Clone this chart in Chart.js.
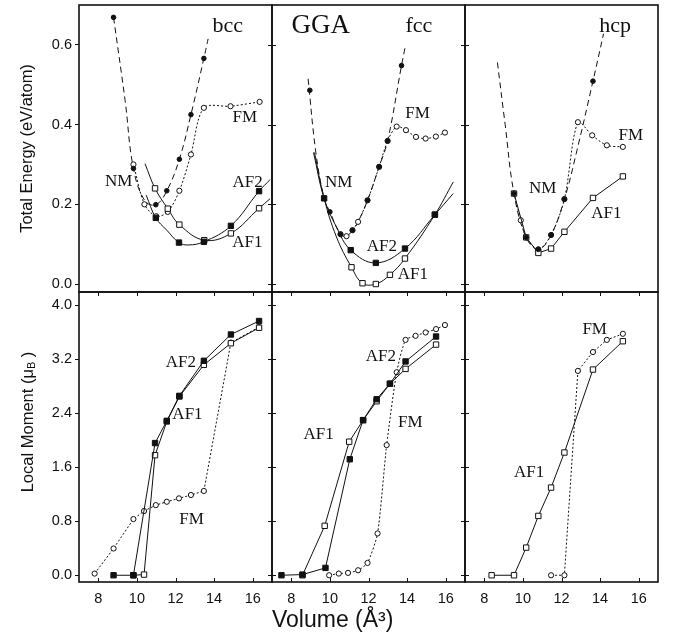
<!DOCTYPE html>
<html>
<head>
<meta charset="utf-8">
<script src="https://cdn.jsdelivr.net/npm/chart.js@4.4.1/dist/chart.umd.min.js"></script>
<style>
    body { margin: 0; background: #fff; }
    #wrap { position: relative; width: 675px; height: 639px; }
    #wrap canvas { position: absolute; left: 0; top: 0; }
</style>
</head>
<body>
<div id="wrap">
    <canvas id="bccE" width="675" height="639"></canvas>
    <canvas id="fccE" width="675" height="639"></canvas>
    <canvas id="hcpE" width="675" height="639"></canvas>
    <canvas id="bccM" width="675" height="639"></canvas>
    <canvas id="fccM" width="675" height="639"></canvas>
    <canvas id="hcpM" width="675" height="639"></canvas>
</div>
<script>
// tick values
const xTicks = [8, 10, 12, 14, 16];
const energyTicks = [0, 0.2, 0.4, 0.6];
const momentTicks = [0, 0.8, 1.6, 2.4, 3.2, 4.0];

// bcc, total energy (fitted curves + computed points)
const bccNMFit = [[8.79, 0.669], [9.39, 0.46], [9.82, 0.29], [10.4, 0.21], [10.98, 0.199], [11.55, 0.234], [12.2, 0.313], [12.8, 0.425], [13.47, 0.566], [13.69, 0.615]];
const bccNMPts = [[8.79, 0.669], [9.82, 0.29], [10.98, 0.199], [11.55, 0.234], [12.2, 0.313], [12.8, 0.425], [13.47, 0.566]];
const bccFM = [[9.82, 0.30], [10.39, 0.20], [11.0, 0.17], [11.6, 0.181], [12.2, 0.234], [12.8, 0.325], [13.47, 0.442], [14.85, 0.446], [16.36, 0.457]];
const bccAF1Fit = [[10.42, 0.302], [10.94, 0.240], [11.6, 0.189], [12.2, 0.149], [13.49, 0.110], [14.87, 0.127], [16.33, 0.19], [16.9, 0.214]];
const bccAF1Pts = [[10.94, 0.240], [11.6, 0.189], [12.2, 0.149], [13.49, 0.110], [14.87, 0.127], [16.33, 0.19]];
const bccAF2Fit = [[10.48, 0.223], [10.98, 0.166], [11.55, 0.135], [12.18, 0.104], [12.66, 0.098], [13.47, 0.106], [14.87, 0.146], [16.33, 0.233], [16.9, 0.262]];
const bccAF2Pts = [[10.98, 0.166], [12.18, 0.104], [13.47, 0.106], [14.87, 0.146], [16.33, 0.233]];

// fcc, total energy
const fccNMFit = [[8.87, 0.515], [9.27, 0.331], [9.7, 0.215], [10.0, 0.181], [10.55, 0.125], [10.86, 0.12], [11.17, 0.135], [11.46, 0.156], [11.95, 0.21], [12.55, 0.294], [12.99, 0.359], [13.71, 0.548], [13.89, 0.592]];
const fccNMPts = [[8.96, 0.486], [9.7, 0.215], [10.0, 0.181], [10.55, 0.125], [11.17, 0.135], [11.95, 0.21], [12.55, 0.294], [12.99, 0.359], [13.71, 0.548]];
const fccFM = [[10.55, 0.125], [10.86, 0.12], [11.17, 0.135], [11.46, 0.156], [11.95, 0.21], [12.55, 0.294], [12.99, 0.359], [13.46, 0.395], [13.94, 0.386], [14.46, 0.369], [14.96, 0.365], [15.49, 0.37], [15.96, 0.38]];
const fccAF1Fit = [[9.2, 0.33], [9.7, 0.215], [10.34, 0.118], [11.12, 0.042], [11.69, 0.002], [12.38, 0.0], [13.11, 0.023], [13.89, 0.064], [15.44, 0.174], [16.39, 0.256]];
const fccAF1Pts = [[11.12, 0.042], [11.69, 0.002], [12.38, 0.0], [13.11, 0.023], [13.89, 0.064], [15.44, 0.174]];
const fccAF2Fit = [[9.15, 0.33], [9.7, 0.215], [10.34, 0.143], [11.08, 0.085], [12.38, 0.053], [13.89, 0.089], [15.44, 0.174], [16.39, 0.227]];
const fccAF2Pts = [[9.7, 0.215], [11.08, 0.085], [12.38, 0.053], [13.89, 0.089], [15.44, 0.174]];

// hcp, total energy
const hcpNMFit = [[8.68, 0.556], [9.08, 0.40], [9.54, 0.227], [10.17, 0.117], [10.8, 0.087], [11.46, 0.123], [12.15, 0.213], [12.8, 0.335], [13.63, 0.509], [14.18, 0.628]];
const hcpNMPts = [[9.54, 0.227], [10.17, 0.117], [10.8, 0.087], [11.46, 0.123], [12.15, 0.213], [13.63, 0.509]];
const hcpFM = [[9.54, 0.227], [9.89, 0.16], [10.17, 0.117], [10.8, 0.087], [11.46, 0.123], [12.15, 0.213], [12.85, 0.406], [13.59, 0.373], [14.35, 0.348], [15.18, 0.344]];
const hcpAF1 = [[9.54, 0.227], [10.17, 0.117], [10.8, 0.078], [11.46, 0.089], [12.15, 0.131], [13.63, 0.216], [15.18, 0.270]];

// local moments
const bccMomAF2 = [[8.79, 0], [9.82, 0], [10.94, 1.96], [11.55, 2.29], [12.2, 2.66], [13.47, 3.18], [14.87, 3.57], [16.33, 3.77]];
const bccMomAF1 = [[9.82, 0], [10.37, 0.01], [10.94, 1.78], [11.55, 2.28], [12.2, 2.65], [13.47, 3.12], [14.87, 3.44], [16.33, 3.67]];
const bccMomFM = [[7.81, 0.025], [8.79, 0.397], [9.82, 0.833], [10.37, 0.952], [10.98, 1.04], [11.55, 1.09], [12.18, 1.14], [12.8, 1.19], [13.47, 1.25], [14.87, 3.45], [16.33, 3.68]];

const fccMomAF2 = [[7.49, 0], [8.58, 0.01], [9.77, 0.109], [11.03, 1.72], [11.72, 2.30], [12.42, 2.61], [13.11, 2.84], [13.92, 3.17], [15.50, 3.54]];
const fccMomAF1 = [[8.58, 0], [9.73, 0.733], [11.0, 1.98], [11.72, 2.30], [12.42, 2.58], [13.11, 2.84], [13.92, 3.06], [15.50, 3.42]];
const fccMomFM = [[9.96, 0], [10.46, 0.025], [10.94, 0.035], [11.46, 0.074], [11.95, 0.183], [12.47, 0.62], [12.94, 1.93], [13.46, 3.01], [13.92, 3.49], [14.44, 3.55], [14.96, 3.60], [15.50, 3.65], [15.96, 3.71]];

const hcpMomAF1 = [[8.38, 0], [9.54, 0], [10.17, 0.41], [10.80, 0.88], [11.46, 1.30], [12.15, 1.82], [13.63, 3.05], [15.18, 3.47]];
const hcpMomFM = [[11.46, 0], [12.15, 0], [12.85, 3.03], [13.63, 3.31], [14.35, 3.49], [15.18, 3.58]];

// in-panel labels: text, x, y, font size
const bccENotes = [['bcc', 14.71, 0.648, 22], ['NM', 9.06, 0.258, 17], ['FM', 15.59, 0.418, 17], ['AF2', 15.74, 0.255, 17], ['AF1', 15.72, 0.105, 17]];
const fccENotes = [['GGA', 9.53, 0.648, 27], ['fcc', 14.61, 0.648, 22], ['NM', 10.46, 0.255, 17], ['FM', 14.54, 0.428, 17], ['AF2', 12.69, 0.093, 17], ['AF1', 14.30, 0.023, 17]];
const hcpENotes = [['hcp', 14.78, 0.646, 22], ['NM', 11.02, 0.240, 17], ['FM', 15.59, 0.373, 17], ['AF1', 14.32, 0.178, 17]];
const bccMNotes = [['AF2', 12.28, 3.15, 17], ['AF1', 12.62, 2.38, 17], ['FM', 12.83, 0.83, 17]];
const fccMNotes = [['AF2', 12.64, 3.24, 17], ['AF1', 9.42, 2.08, 17], ['FM', 14.17, 2.26, 17]];
const hcpMNotes = [['FM', 13.72, 3.64, 17], ['AF1', 10.32, 1.53, 17]];

const ink = '#111';
const sans = '"Liberation Sans", Arial, Helvetica, sans-serif';
const serif = '"Liberation Serif", "Times New Roman", serif';

// panel edges in pixels
const panelCols = [[79, 272], [272, 465], [465, 658]];
const panelRows = [[3, 292], [292, 582]];

const nm = { pointStyle: 'circle', pointRadius: 2.3, pointBackgroundColor: ink, pointBorderColor: ink, pointBorderWidth: 1 };
const fm = { pointStyle: 'circle', pointRadius: 2.6, pointBackgroundColor: '#fff', pointBorderColor: ink, pointBorderWidth: 1 };
const af2 = { pointStyle: 'rect', pointRadius: 3.8, pointBackgroundColor: ink, pointBorderColor: ink, pointBorderWidth: 1 };
const af1 = { pointStyle: 'rect', pointRadius: 3.8, pointBackgroundColor: '#fff', pointBorderColor: ink, pointBorderWidth: 1 };

function series(data, dash, marker, tension) {
    return Object.assign({
        data: data.map(([x, y]) => ({ x, y })),
        showLine: dash !== null,
        borderColor: ink,
        borderWidth: 1,
        borderDash: dash || [],
        tension: tension || 0,
        pointRadius: 0
    }, marker || {});
}

function makePanel(id, col, row, datasets, notes, extraPlugins) {
    const [left, right] = panelCols[col];
    const [top, bottom] = panelRows[row];
    const yTicks = row === 0 ? energyTicks : momentTicks;

    const frame = {
        id: 'frame',
        afterDraw(chart) {
            const ctx = chart.ctx, a = chart.chartArea;
            const xs = chart.scales.x, ys = chart.scales.y;
            ctx.save();
            ctx.strokeStyle = ink;
            ctx.lineWidth = 1;
            ctx.beginPath();
            yTicks.forEach(v => {
                const py = Math.round(ys.getPixelForValue(v)) + 0.5;
                if (col > 0) { ctx.moveTo(a.left, py); ctx.lineTo(a.left + 4, py); }
                if (col < 2) { ctx.moveTo(a.right, py); ctx.lineTo(a.right - 4, py); }
            });
            if (row === 1) {
                xTicks.forEach(v => {
                    const px = Math.round(xs.getPixelForValue(v)) + 0.5;
                    ctx.moveTo(px, a.top); ctx.lineTo(px, a.top + 4);
                    ctx.moveTo(px, a.bottom); ctx.lineTo(px, a.bottom - 4);
                });
            }
            ctx.stroke();
            ctx.lineWidth = 1.6;
            ctx.strokeRect(a.left, a.top, a.right - a.left, a.bottom - a.top);
            ctx.fillStyle = ink;
            ctx.textAlign = 'center';
            ctx.textBaseline = 'middle';
            notes.forEach(([text, x, y, size]) => {
                ctx.font = size + 'px ' + serif;
                ctx.fillText(text, xs.getPixelForValue(x), ys.getPixelForValue(y));
            });
            ctx.restore();
        }
    };

    return new Chart(document.getElementById(id), {
        type: 'scatter',
        data: { datasets: datasets },
        plugins: [frame].concat(extraPlugins || []),
        options: {
            responsive: false,
            animation: false,
            devicePixelRatio: 1,
            events: [],
            layout: {
                padding: {
                    left: col === 0 ? 0 : left,
                    right: 675 - right,
                    top: top,
                    bottom: row === 1 ? 0 : 639 - bottom
                }
            },
            plugins: { legend: { display: false }, tooltip: { enabled: false } },
            scales: {
                x: {
                    type: 'linear',
                    min: 7,
                    max: 17,
                    display: row === 1,
                    afterFit: row === 1 ? s => { s.height = 639 - bottom; s.paddingLeft = 0; s.paddingRight = 0; } : undefined,
                    afterBuildTicks: s => { s.ticks = xTicks.map(v => ({ value: v })); },
                    grid: { display: false },
                    border: { display: false },
                    ticks: { color: ink, padding: 0, font: { family: sans, size: 14.5 } },
                    title: {
                        display: row === 1 && col === 1,
                        text: 'Volume (Å³)',
                        align: 'start',
                        color: ink,
                        font: { family: sans, size: 23 },
                        padding: { top: 0, bottom: 5 }
                    }
                },
                y: {
                    type: 'linear',
                    min: row === 0 ? -0.02 : -0.1,
                    max: row === 0 ? 0.70 : 4.2,
                    display: col === 0,
                    afterFit: col === 0 ? s => { s.width = left; s.paddingTop = 0; s.paddingBottom = 0; } : undefined,
                    afterBuildTicks: s => { s.ticks = yTicks.map(v => ({ value: v })); },
                    grid: { drawOnChartArea: false, drawTicks: true, tickLength: 4, color: ink, lineWidth: 1 },
                    border: { display: false },
                    ticks: {
                        color: ink,
                        padding: 3,
                        font: { family: sans, size: 14.5 },
                        callback: v => Number(v).toFixed(1)
                    },
                    title: {
                        display: row === 0 && col === 0,
                        text: 'Total Energy (eV/atom)',
                        color: ink,
                        font: { family: sans, size: 16.5 },
                        padding: { top: 18, bottom: 0 }
                    }
                }
            }
        }
    });
}

// y title with subscript for the moment row
const momentTitle = {
    id: 'momentTitle',
    afterDraw(chart) {
        const ctx = chart.ctx;
        const big = '16.5px ' + sans, small = '11px ' + sans;
        const parts = [['Local Moment (μ', big, 0], ['B', small, 4], [' )', big, 0]];
        ctx.save();
        ctx.translate(28, 422);
        ctx.rotate(-Math.PI / 2);
        ctx.fillStyle = ink;
        ctx.textBaseline = 'middle';
        ctx.textAlign = 'left';
        let total = 0;
        parts.forEach(p => { ctx.font = p[1]; total += ctx.measureText(p[0]).width; });
        let x = -total / 2;
        parts.forEach(p => {
            ctx.font = p[1];
            ctx.fillText(p[0], x, p[2]);
            x += ctx.measureText(p[0]).width;
        });
        ctx.restore();
    }
};

makePanel('bccE', 0, 0, [
    series(bccNMPts, null, nm),
    series(bccAF2Pts, null, af2),
    series(bccAF1Pts, null, af1),
    series(bccFM, [2, 2], fm, 0.3),
    series(bccNMFit, [6, 4], null, 0.4),
    series(bccAF1Fit, [], null, 0.4),
    series(bccAF2Fit, [], null, 0.4)
], bccENotes);

makePanel('fccE', 1, 0, [
    series(fccNMPts, null, nm),
    series(fccAF2Pts, null, af2),
    series(fccAF1Pts, null, af1),
    series(fccFM, [2, 2], fm, 0.3),
    series(fccNMFit, [6, 4], null, 0.4),
    series(fccAF1Fit, [], null, 0.4),
    series(fccAF2Fit, [], null, 0.4)
], fccENotes);

makePanel('hcpE', 2, 0, [
    series(hcpNMPts, null, nm),
    series(hcpAF1, [], af1, 0),
    series(hcpFM, [2, 2], fm, 0.3),
    series(hcpNMFit, [6, 4], null, 0.4)
], hcpENotes);

makePanel('bccM', 0, 1, [
    series(bccMomAF2, [], af2, 0),
    series(bccMomAF1, [], af1, 0),
    series(bccMomFM, [2, 2], fm, 0)
], bccMNotes, [momentTitle]);

makePanel('fccM', 1, 1, [
    series(fccMomAF2, [], af2, 0),
    series(fccMomAF1, [], af1, 0),
    series(fccMomFM, [2, 2], fm, 0.2)
], fccMNotes);

makePanel('hcpM', 2, 1, [
    series(hcpMomAF1, [], af1, 0),
    series(hcpMomFM, [2, 2], fm, 0)
], hcpMNotes);
</script>
</body>
</html>
